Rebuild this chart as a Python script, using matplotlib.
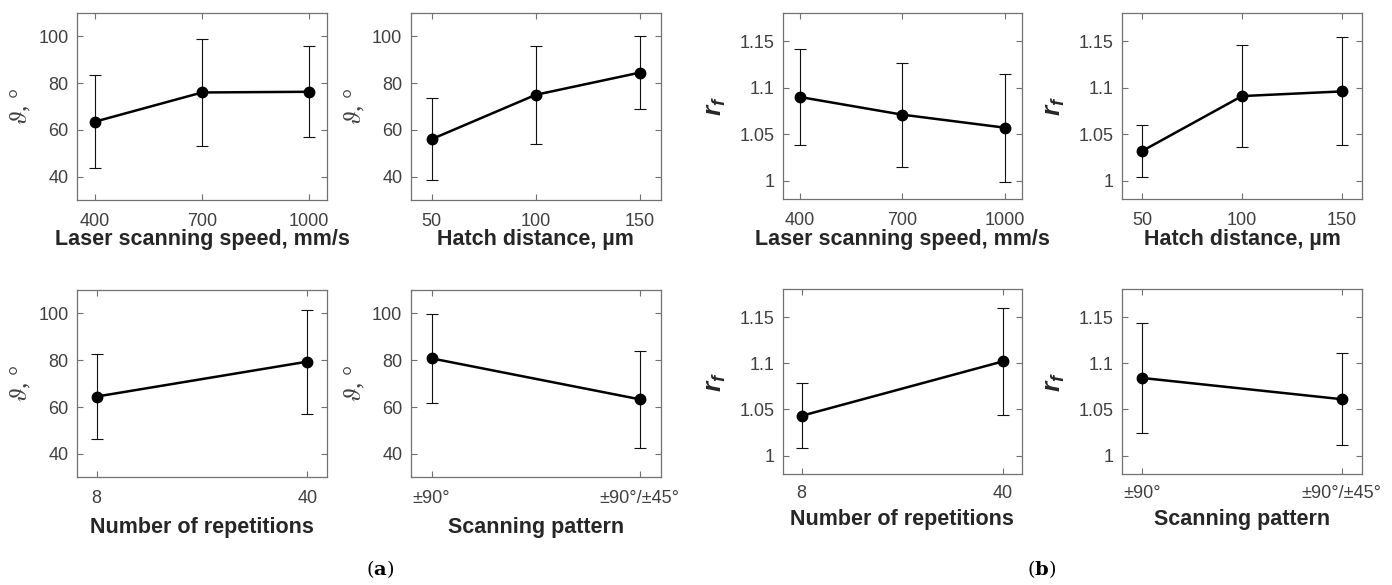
import matplotlib
matplotlib.use("Agg")
import matplotlib.pyplot as plt

plt.rcParams['font.family'] = ['Liberation Sans', 'DejaVu Sans']
plt.rcParams['mathtext.fontset'] = 'custom'
plt.rcParams['mathtext.it'] = 'Liberation Sans:italic:bold'
plt.rcParams['mathtext.rm'] = 'Liberation Sans:bold'

# ---- data ----
speed = [400, 700, 1000]
hatch = [50, 100, 150]
reps = [8, 40]
pattern_labels = ['±90°', '±90°/±45°']

theta_speed = [63.5, 76.0, 76.3]
theta_speed_err = [20.0, 23.0, 19.4]
theta_hatch = [56.0, 75.0, 84.5]
theta_hatch_err = [17.5, 21.0, 15.5]
theta_reps = [64.5, 79.4]
theta_reps_err = [18.0, 22.2]
theta_pattern = [80.8, 63.3]
theta_pattern_err = [19.0, 20.7]

rf_speed = [1.090, 1.071, 1.057]
rf_speed_err = [0.052, 0.056, 0.058]
rf_hatch = [1.032, 1.091, 1.096]
rf_hatch_err = [0.028, 0.055, 0.058]
rf_reps = [1.043, 1.102]
rf_reps_err = [0.035, 0.058]
rf_pattern = [1.084, 1.061]
rf_pattern_err = [0.060, 0.050]

xlabels = ['Laser scanning speed, mm/s', 'Hatch distance, µm',
           'Number of repetitions', 'Scanning pattern']

W, H = 1392, 585
fig = plt.figure(figsize=(W / 100, H / 100), dpi=100)


def px_axes(left, top, right, bottom):
    return fig.add_axes([left / W, 1 - bottom / H, (right - left) / W, (bottom - top) / H])


spine_col = '#707070'
tick_col = '#404040'
label_col = '#262626'


def draw(ax, x, y, err, xticks, xticklabels, xlim, yticks, yticklabels, ylim, kind):
    ax.errorbar(x, y, yerr=err, fmt='none', ecolor='#111111', elinewidth=0.8,
                capsize=4, capthick=0.8, zorder=2)
    ax.plot(x, y, color='black', lw=1.8, marker='o', ms=7.5,
            markerfacecolor='black', markeredgecolor='black', zorder=3)
    ax.set_xlim(*xlim)
    ax.set_ylim(*ylim)
    ax.set_xticks(xticks)
    ax.set_xticklabels(xticklabels)
    ax.set_yticks(yticks)
    ax.set_yticklabels(yticklabels)
    ax.tick_params(direction='in', length=4, width=0.8, colors=spine_col,
                   labelcolor=tick_col, labelsize=13, top=True, right=True)
    ax.tick_params(axis='y', pad=6)
    for s in ax.spines.values():
        s.set_color(spine_col)
        s.set_linewidth(0.9)
    if kind == 'theta':
        ax.set_ylabel(r'$\vartheta$, °', fontsize=18, color=tick_col,
                      math_fontfamily='stix', fontfamily=['Liberation Serif'])
        ax.yaxis.set_label_coords(-0.176, 0.5)
    else:
        ax.set_ylabel(r'$r_f$', fontsize=19, color=label_col)
        ax.yaxis.set_label_coords(-0.229, 0.5)


axes_px = {
    (0, 0): (77, 13, 327, 200),
    (0, 1): (410.7, 13, 660.7, 200),
    (1, 0): (77, 290, 327, 477.3),
    (1, 1): (410.7, 290, 660.7, 477.3),
    (0, 2): (782.7, 13.3, 1022, 199.3),
    (0, 3): (1122.3, 13.3, 1361.7, 199.3),
    (1, 2): (782.7, 289.3, 1022, 474),
    (1, 3): (1122.3, 289.3, 1361.7, 474),
}
# (tick pad, xlabel pad) per panel, in points
pads = {
    (0, 0): (9, 0), (0, 1): (9, 0), (0, 2): (9, 0), (0, 3): (9, 0),
    (1, 0): (9, 7), (1, 1): (9, 7), (1, 2): (8, 5), (1, 3): (8, 5),
}

th_yt = [40, 60, 80, 100]
th_yl = ['40', '60', '80', '100']
th_lim = (30, 110)
rf_yt = [1.0, 1.05, 1.1, 1.15]
rf_yl = ['1', '1.05', '1.1', '1.15']
rf_lim = (0.98, 1.18)

pat_x = list(range(len(pattern_labels)))

specs = [
    ((0, 0), speed, theta_speed, theta_speed_err, speed, [str(v) for v in speed], (350, 1050), 'theta', 0),
    ((0, 1), hatch, theta_hatch, theta_hatch_err, hatch, [str(v) for v in hatch], (40, 160), 'theta', 1),
    ((1, 0), reps, theta_reps, theta_reps_err, reps, [str(v) for v in reps], (5, 43), 'theta', 2),
    ((1, 1), pat_x, theta_pattern, theta_pattern_err, pat_x, pattern_labels, (-0.1, 1.1), 'theta', 3),
    ((0, 2), speed, rf_speed, rf_speed_err, speed, [str(v) for v in speed], (350, 1050), 'rf', 0),
    ((0, 3), hatch, rf_hatch, rf_hatch_err, hatch, [str(v) for v in hatch], (40, 160), 'rf', 1),
    ((1, 2), reps, rf_reps, rf_reps_err, reps, [str(v) for v in reps], (5, 43), 'rf', 2),
    ((1, 3), pat_x, rf_pattern, rf_pattern_err, pat_x, pattern_labels, (-0.1, 1.1), 'rf', 3),
]

for key, x, y, e, xt, xtl, xl, kind, li in specs:
    ax = px_axes(*axes_px[key])
    if kind == 'theta':
        draw(ax, x, y, e, xt, xtl, xl, th_yt, th_yl, th_lim, kind)
    else:
        draw(ax, x, y, e, xt, xtl, xl, rf_yt, rf_yl, rf_lim, kind)
    tp, lp = pads[key]
    ax.tick_params(axis='x', pad=tp)
    ax.set_xlabel(xlabels[li], fontsize=15.5, fontweight='bold', color=label_col, labelpad=lp)

fig.text(380 / W, 1 - 569 / H, r'($\mathbf{a}$)', fontsize=14, ha='center', va='center',
         color='black', math_fontfamily='dejavuserif', fontfamily=['DejaVu Serif'])
fig.text(1042 / W, 1 - 569 / H, r'($\mathbf{b}$)', fontsize=14, ha='center', va='center',
         color='black', math_fontfamily='dejavuserif', fontfamily=['DejaVu Serif'])

fig.savefig('out.png', dpi=100, facecolor='white')
